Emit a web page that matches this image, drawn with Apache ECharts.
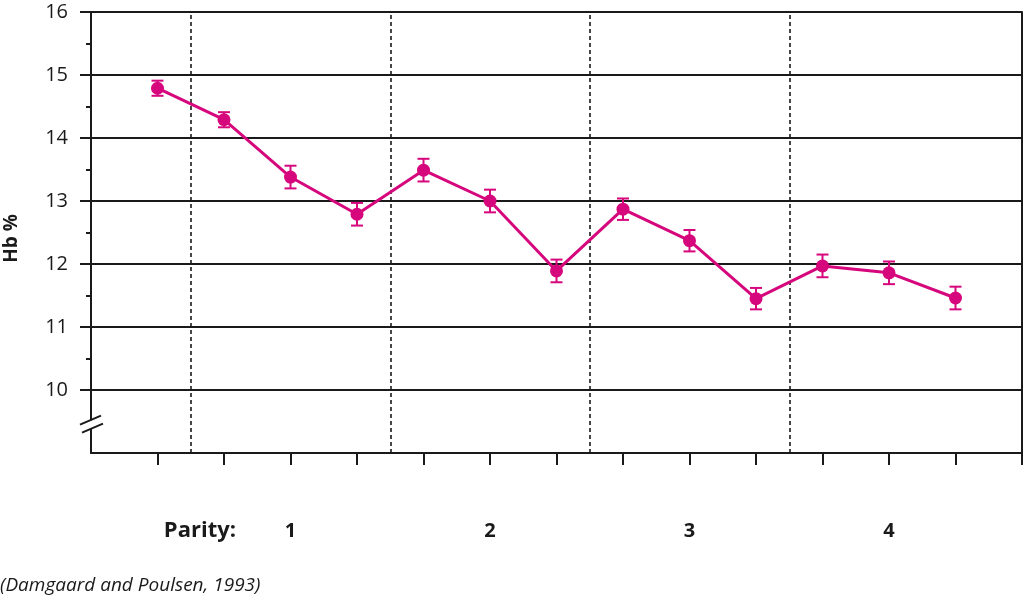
<!DOCTYPE html>
<html>
<head>
<meta charset="utf-8">
<script src="https://cdn.jsdelivr.net/npm/echarts@6/dist/echarts.min.js"></script>
<style>
html,body{margin:0;padding:0;background:#fff;}
#c{width:1024px;height:599px;}
</style>
</head>
<body>
<div id="c"></div>
<script>
const pointIndex = [1,2,3,4,5,6,7,8,9,10,11,12,13];
const hbValues = [14.79,14.29,13.38,12.79,13.49,13.0,11.89,12.87,12.37,11.45,11.97,11.86,11.46];
const hbErrors = [0.12,0.12,0.18,0.18,0.18,0.18,0.18,0.17,0.17,0.17,0.18,0.18,0.18];
const parityLabels = ['1','2','3','4'];
const parityPositions = [3,6,9,12];
const dividerPositions = [1.5,4.5,7.5,10.5];
const yTickValues = [10,11,12,13,14,15,16];
const yMinorTicks = [10.5,11.5,12.5,13.5,14.5,15.5];
const xTickValues = [1,2,3,4,5,6,7,8,9,10,11,12,13,14];
const sourceText = '(Damgaard and Poulsen, 1993)';

const PINK = '#D6077C';
const INK = '#1a1a1a';
const FONT = '"Open Sans", "Noto Sans", sans-serif';

const lineData = pointIndex.map((x,i)=>[x, hbValues[i]]);
const errData = pointIndex.map((x,i)=>[x, hbValues[i]-hbErrors[i], hbValues[i]+hbErrors[i]]);

const chart = echarts.init(document.getElementById('c'), null, {renderer:'canvas'});
chart.setOption({
  animation:false,
  backgroundColor:'#fff',
  grid:{left:91,right:2,top:12,bottom:146,containLabel:false,outerBoundsMode:'none'},
  xAxis:[{
    type:'value', min:0, max:14, interval:1,
    axisLine:{show:true, onZero:false, lineStyle:{color:INK,width:2}},
    axisTick:{show:true, customValues:xTickValues, length:12, lineStyle:{color:INK,width:2}},
    axisLabel:{show:true, customValues:parityPositions, margin:68,
      formatter:(v)=>{const k=parityPositions.indexOf(v);return k>=0?parityLabels[k]:'';},
      fontFamily:FONT, fontWeight:'bold', fontSize:20, color:INK},
    splitLine:{show:false}
  }],
  yAxis:[{
    type:'value', min:9, max:16, interval:1,
    name:'Hb %', nameLocation:'middle', nameGap:79, nameRotate:90,
    nameTextStyle:{fontFamily:FONT,fontWeight:'bold',fontSize:19,color:INK,verticalAlign:'middle',padding:[0,12,0,0]},
    axisLine:{show:true, lineStyle:{color:INK,width:2}},
    axisTick:{show:true, customValues:yTickValues, length:11, lineStyle:{color:INK,width:2}},
    axisLabel:{show:true, customValues:yTickValues, margin:23,
      fontFamily:FONT, fontSize:20, color:INK},
    splitLine:{show:true, lineStyle:{color:INK,width:2}}
  },{
    type:'value', min:9, max:16, interval:1, position:'left',
    axisLine:{show:false},
    axisTick:{show:true, customValues:yMinorTicks, length:5, lineStyle:{color:INK,width:2}},
    axisLabel:{show:false},
    splitLine:{show:false}
  },{
    type:'value', min:9, max:16, interval:1, position:'right',
    axisLine:{show:true, lineStyle:{color:INK,width:2}},
    axisTick:{show:false}, axisLabel:{show:false}, splitLine:{show:false}
  }],
  series:[{
    type:'line',
    data:lineData,
    symbol:'circle', symbolSize:13,
    lineStyle:{color:PINK,width:3},
    itemStyle:{color:PINK},
    z:5,
    markLine:{
      silent:true, symbol:'none', label:{show:false},
      lineStyle:{color:INK,type:[4,3],width:1.6},
      data:dividerPositions.map(v=>({xAxis:v}))
    }
  },{
    type:'custom',
    data:errData,
    z:4,
    renderItem:(params, api)=>{
      const x = api.value(0);
      const lo = api.coord([x, api.value(1)]);
      const hi = api.coord([x, api.value(2)]);
      const w = 6;
      const st = {stroke:PINK, lineWidth:2};
      return {type:'group', children:[
        {type:'line', shape:{x1:lo[0],y1:lo[1],x2:hi[0],y2:hi[1]}, style:st},
        {type:'line', shape:{x1:lo[0]-w,y1:lo[1],x2:lo[0]+w,y2:lo[1]}, style:st},
        {type:'line', shape:{x1:hi[0]-w,y1:hi[1],x2:hi[0]+w,y2:hi[1]}, style:st}
      ]};
    }
  }]
});

// axis break marks and extra text
const bp = chart.convertToPixel({gridIndex:0}, [0, 9.45]);
const bx = bp[0], by = bp[1];
const parityPx = chart.convertToPixel({gridIndex:0}, [parityPositions[0], 9]);
chart.setOption({
  graphic:[
    {type:'rect', shape:{x:bx-4,y:by-4,width:8,height:8}, style:{fill:'#fff'}, z:100},
    {type:'line', shape:{x1:bx-11,y1:by+0,x2:bx+10,y2:by-9}, style:{stroke:INK,lineWidth:2}, z:101},
    {type:'line', shape:{x1:bx-9,y1:by+8,x2:bx+12,y2:by-1}, style:{stroke:INK,lineWidth:2}, z:101},
    {type:'text', x:236, y:parityPx[1]+78, style:{text:'Parity:', fontFamily:FONT, fontWeight:'bold', fontSize:22, fill:INK, align:'right', verticalAlign:'middle'}, z:100},
    {type:'text', x:0, y:586, style:{text:sourceText, fontFamily:FONT, fontStyle:'italic', fontSize:19, fill:INK, align:'left', verticalAlign:'middle'}, z:100}
  ]
});
</script>
</body>
</html>
